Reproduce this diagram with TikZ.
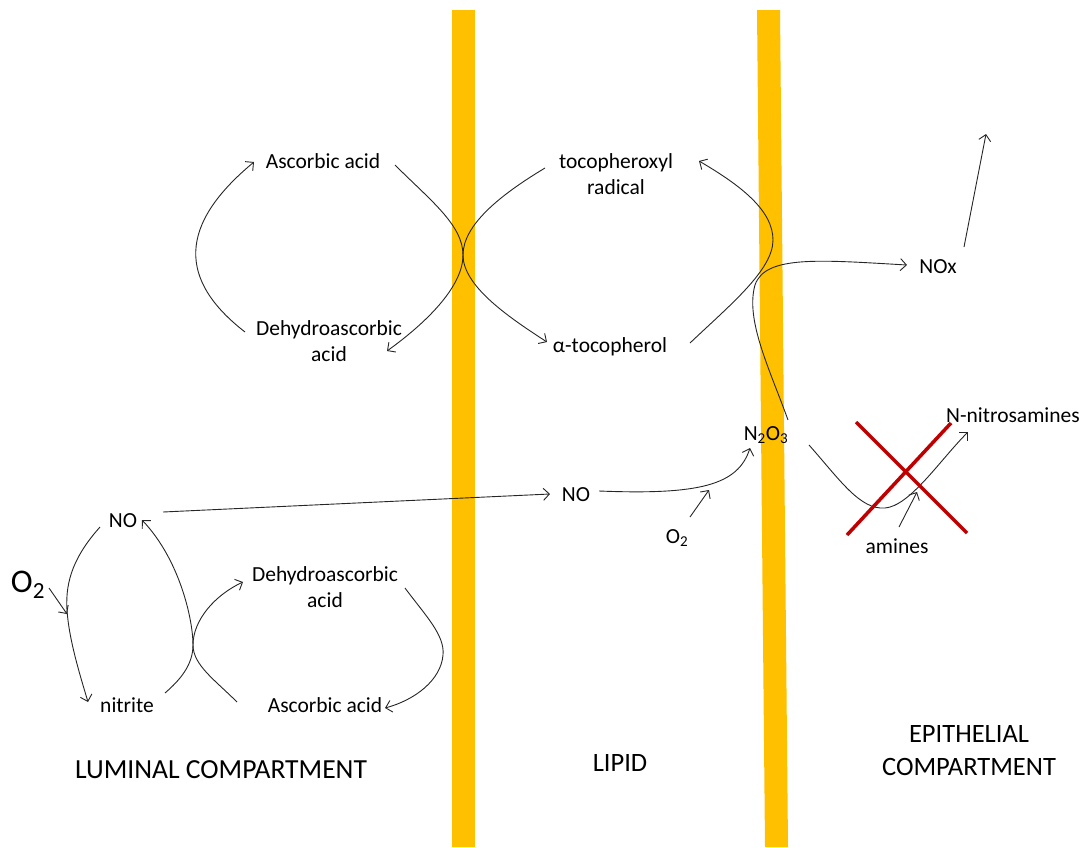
\documentclass[tikz,border=0pt]{standalone}
\usepackage{fontspec}
\setmainfont{Carlito}
\usetikzlibrary{arrows.meta}
\definecolor{lipid}{HTML}{FFC000}
\definecolor{crossred}{HTML}{C00000}
\begin{document}
\begin{tikzpicture}[x=1pt,y=-1pt,
  lbl/.style={inner sep=0pt, font=\fontsize{21.5}{26}\selectfont, align=center},
  big/.style={inner sep=0pt, font=\fontsize{26.5}{33}\selectfont, align=center},
  conn/.style={line width=0.9pt, draw=black!85, -{Straight Barb[length=6pt,width=12pt]}},
  plain/.style={line width=0.9pt, draw=black!85},
  cross/.style={line width=3.5pt, draw=crossred},
  membrane/.style={fill=lipid, draw=none}]
\useasboundingbox (0,0) rectangle (1091,847);

% the two lipid membranes
\fill[membrane] (452,10) -- (475,10) -- (475,847) -- (452,847) -- cycle;
\fill[membrane] (757,10) -- (780,10) -- (788,847) -- (765,847) -- cycle;

% upper labels
\node[lbl, anchor=base] (ascU) at (323,168) {Ascorbic acid};
\node[lbl] (dhaU) at (329,341) {Dehydroascorbic\\acid};
\node[lbl] (tocR) at (616,174) {tocopheroxyl\\radical};
\node[lbl, anchor=base] (tocA) at (610,352) {α-tocopherol};
\node[lbl, anchor=base] (nox) at (938,273) {NOx};
\node[lbl, anchor=base] (nnit) at (1013,422) {N-nitrosamines};
\node[lbl, anchor=base] (n2o3) at (766,440) {N\textsubscript{2}O\textsubscript{3}};
\node[lbl, anchor=base] (amin) at (897,553) {amines};
\node[lbl, anchor=base] (noC) at (576,501) {NO};
\node[lbl, anchor=base] (o2s) at (677,543) {O\textsubscript{2}};

% lower labels
\node[lbl, anchor=base] (noL) at (123,527) {NO};
\node[inner sep=0pt, anchor=base, font=\fontsize{33}{38}\selectfont] (o2b) at (28,592) {O\textsubscript{2}};
\node[lbl] (dhaL) at (325,587) {Dehydroascorbic\\acid};
\node[lbl, anchor=base] (nitr) at (127,712) {nitrite};
\node[lbl, anchor=base] (ascL) at (325,712) {Ascorbic acid};

% compartment titles
\node[big, anchor=base, font=\fontsize{27.6}{33}\selectfont] (lum) at (221,778) {LUMINAL COMPARTMENT};
\node[big, anchor=base] (lip) at (620,771) {LIPID};
\node[big] (epi) at (969,751) {EPITHELIAL\\COMPARTMENT};

% connector end points
\coordinate (a1) at (245,332);  \coordinate (a2) at (254,162);
\coordinate (b1) at (395,165);  \coordinate (bx) at (463,255);  \coordinate (b2) at (387,351);
\coordinate (c1) at (545,168);  \coordinate (c2) at (547,342);
\coordinate (d1) at (690,343);  \coordinate (dx) at (773,240);  \coordinate (d2) at (699,161);
\coordinate (e1) at (788,420);  \coordinate (ex) at (755,285);  \coordinate (e2) at (907,265);
\coordinate (f1) at (964,247);  \coordinate (f2) at (986,134);
\coordinate (g1) at (163,512);  \coordinate (g2) at (550,494);
\coordinate (h1) at (599,491);  \coordinate (h2) at (750,448);
\coordinate (i1) at (690,517);  \coordinate (i2) at (709,490);
\coordinate (j1) at (809,445);  \coordinate (jx) at (885,508);  \coordinate (j2) at (968,432);
\coordinate (k1) at (899,527);  \coordinate (k2) at (917,492);
\coordinate (l1) at (100,527);  \coordinate (lx) at (67,610);   \coordinate (l2) at (88,702);
\coordinate (m1) at (49,588);   \coordinate (m2) at (67,614);
\coordinate (n1) at (165,693);  \coordinate (nx) at (193,645);  \coordinate (n2) at (243,582);
\coordinate (p1) at (237,702);  \coordinate (p2) at (142,520);
\coordinate (q1) at (405,588);  \coordinate (qx) at (443,655);  \coordinate (q2) at (385,708);

% ascorbate / tocopherol cycles across the first membrane
\draw[conn] (a1) .. controls (178,280) and (178,225) .. (a2);
\draw[conn] (b1) .. controls (430,200) and (463,225) .. (bx) .. controls (463,285) and (430,320) .. (b2);
\draw[conn] (c1) .. controls (500,195) and (463,225) .. (bx) .. controls (463,285) and (505,315) .. (c2);
\draw[conn] (d1) .. controls (730,305) and (773,270) .. (dx) .. controls (773,210) and (740,185) .. (d2);

% N2O3 chemistry
\draw[conn] (e1) .. controls (770,370) and (745,320) .. (ex) .. controls (765,255) and (820,260) .. (e2);
\draw[conn] (f1) -- (f2);
\draw[conn] (g1) -- (g2);
\draw[conn] (h1) .. controls (700,495) and (738,485) .. (h2);
\draw[conn] (i1) -- (i2);
\draw[conn] (j1) .. controls (840,480) and (860,510) .. (jx) .. controls (910,506) and (940,460) .. (j2);
\draw[conn] (k1) -- (k2);

% crossed-out nitrosation
\draw[cross] (856,422) -- (967,533);
\draw[cross] (951,423) -- (847,535);

% luminal nitrite / ascorbate cycle
\draw[conn] (l1) .. controls (75,555) and (65,580) .. (lx) .. controls (69,640) and (80,675) .. (l2);
\draw[conn] (m1) -- (m2);
\draw[conn] (n1) .. controls (180,680) and (193,665) .. (nx) .. controls (193,620) and (215,595) .. (n2);
\draw[conn] (p1) .. controls (215,680) and (193,665) .. (nx) .. controls (193,620) and (180,560) .. (p2);
\draw[conn] (q1) .. controls (425,615) and (445,635) .. (qx) .. controls (441,680) and (415,700) .. (q2);
\end{tikzpicture}
\end{document}
